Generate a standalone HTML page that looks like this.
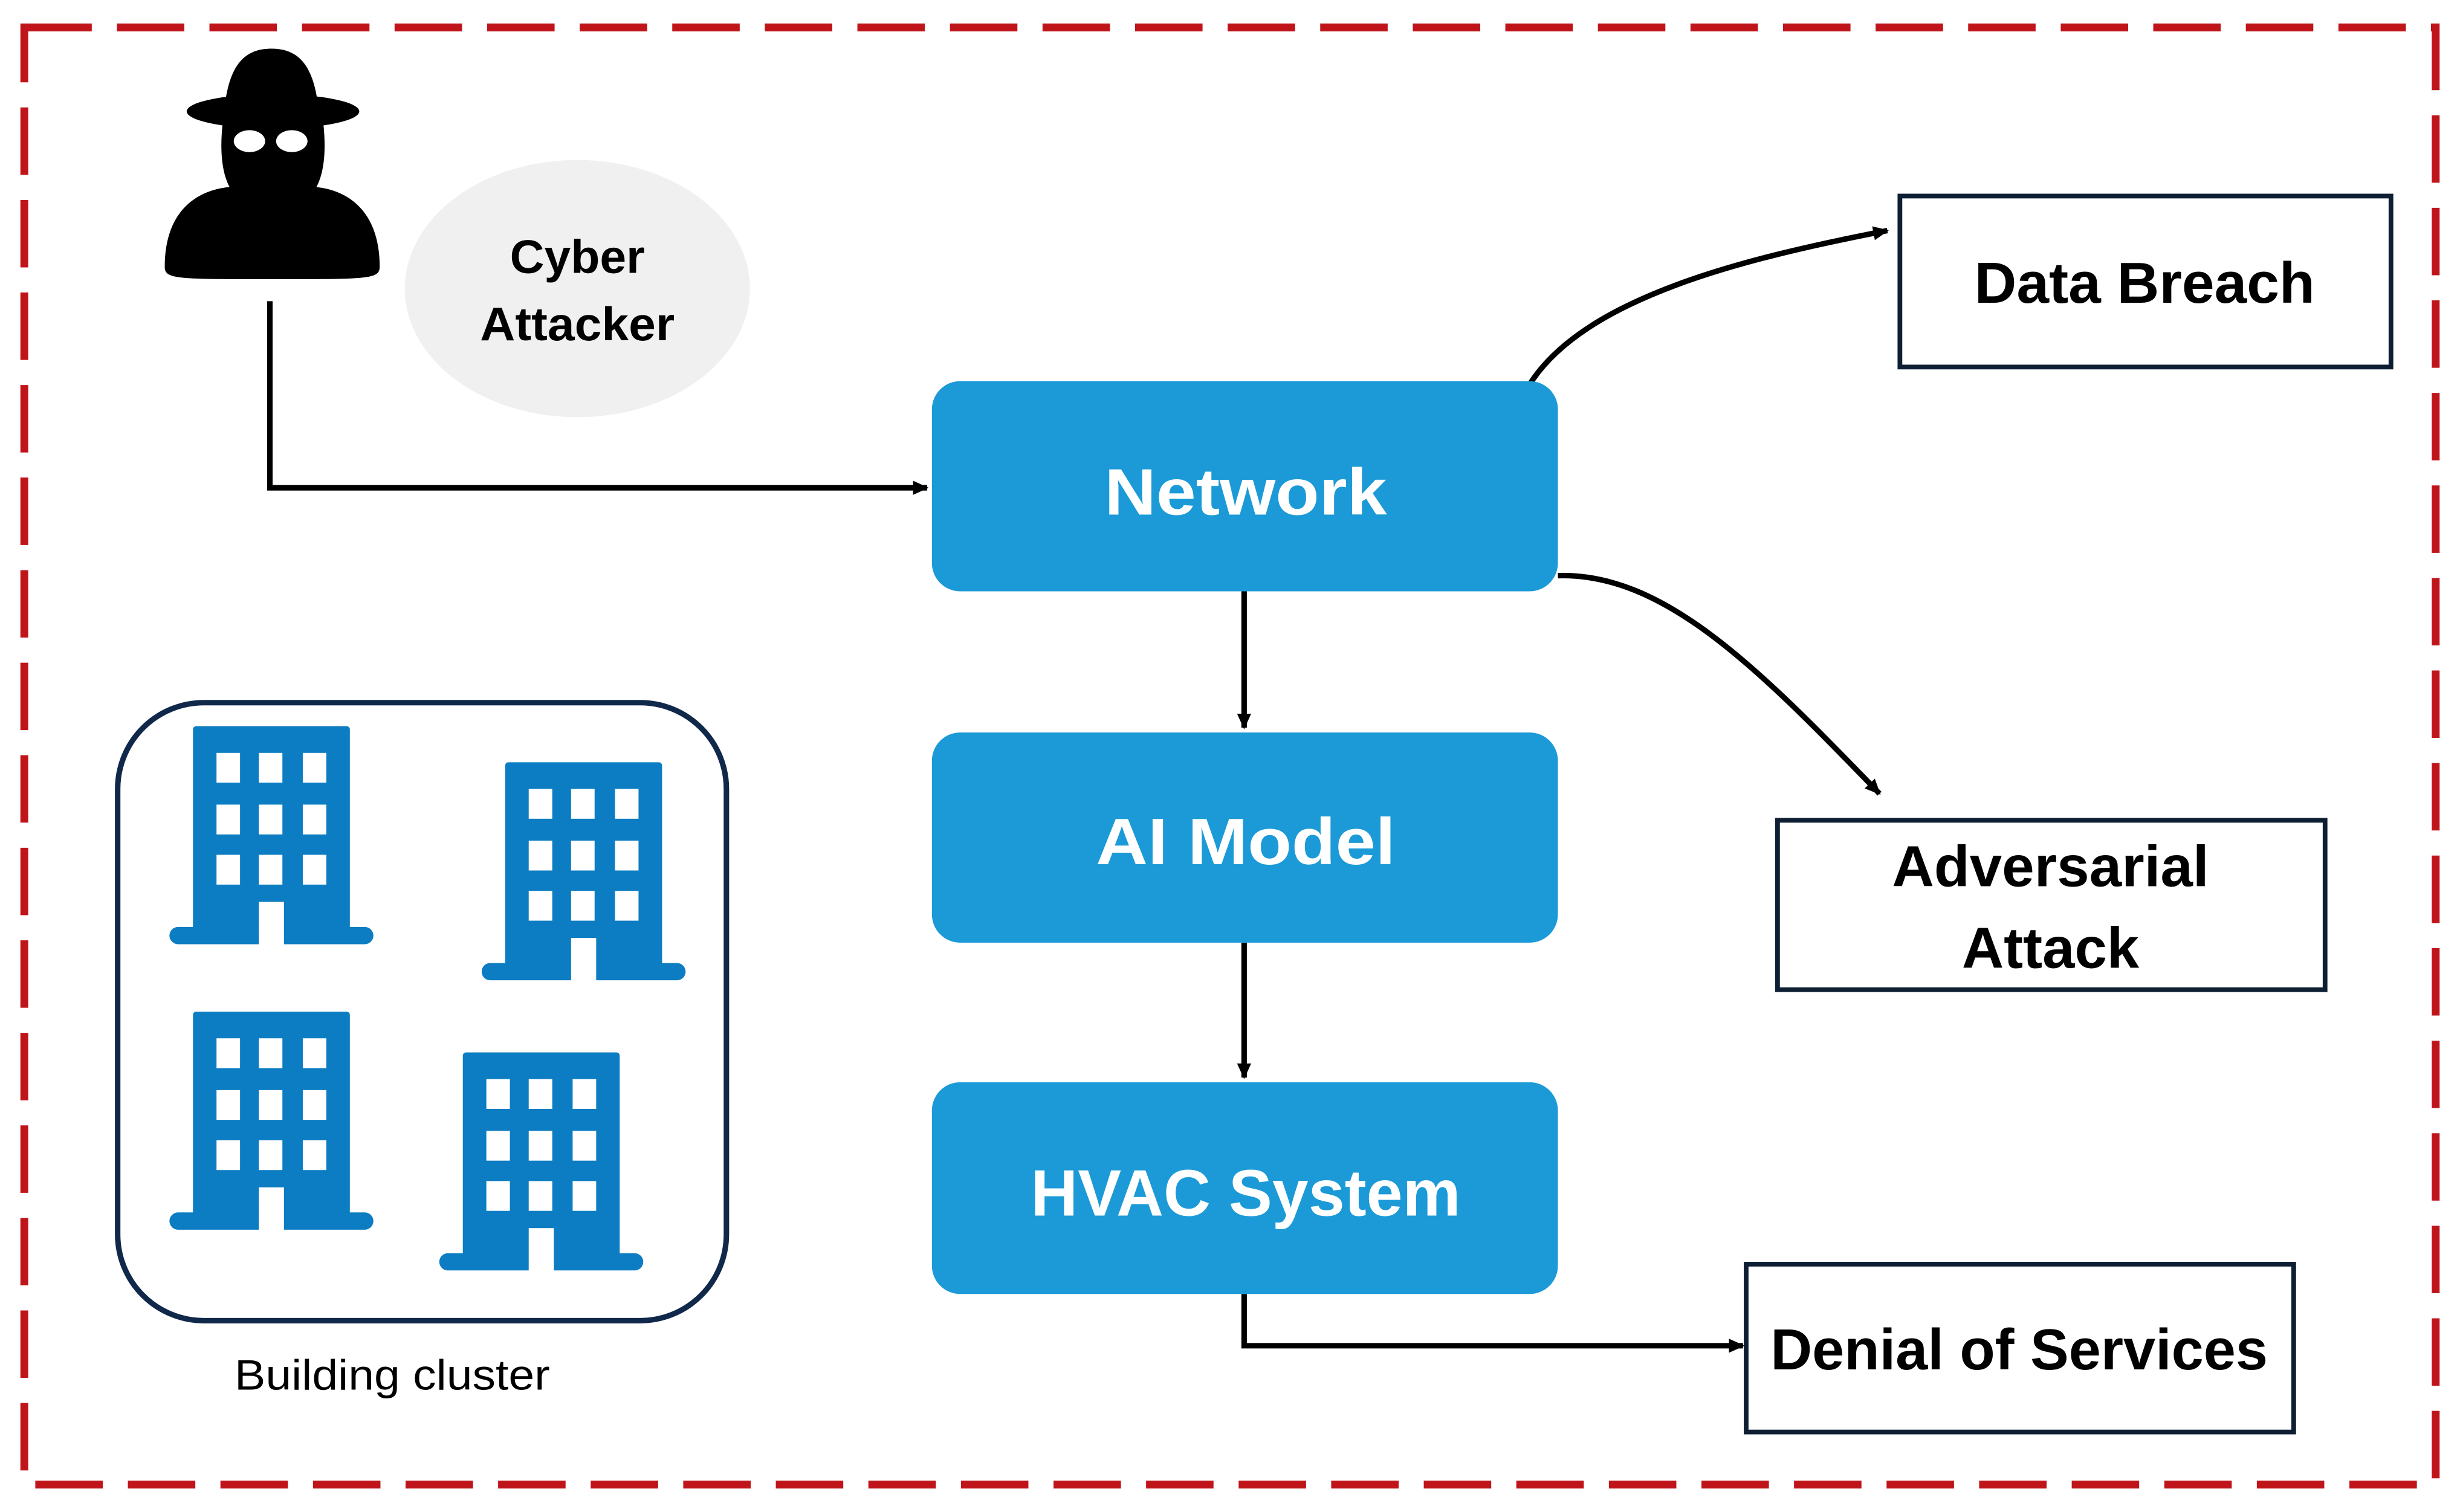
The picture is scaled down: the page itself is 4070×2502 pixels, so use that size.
<!DOCTYPE html>
<html><head><meta charset="utf-8"><style>
html,body{margin:0;padding:0;background:#fff;}
svg{display:block;}
text{font-family:"Liberation Sans",Arial,sans-serif;}
</style></head><body>
<svg width="4070" height="2502" viewBox="0 0 1568 964" preserveAspectRatio="none" xmlns="http://www.w3.org/2000/svg">
<defs>
<marker id="ah" markerWidth="10" markerHeight="10" refX="9" refY="5" orient="auto" markerUnits="userSpaceOnUse">
<path d="M0,0.5 L10,5 L0,9.5 Z" fill="#000"/>
</marker>
<g id="bld">
<rect x="0" y="0" width="100" height="138" rx="2" fill="#0c7dc2"/>
<rect x="-15" y="128" width="130" height="11" rx="5.5" fill="#0c7dc2"/>
<rect x="42" y="112" width="16" height="28" fill="#fff"/>
<g fill="#fff">
<rect x="15" y="17" width="15" height="19"/><rect x="42" y="17" width="15" height="19"/><rect x="70" y="17" width="15" height="19"/>
<rect x="15" y="50" width="15" height="19"/><rect x="42" y="50" width="15" height="19"/><rect x="70" y="50" width="15" height="19"/>
<rect x="15" y="82" width="15" height="19"/><rect x="42" y="82" width="15" height="19"/><rect x="70" y="82" width="15" height="19"/>
</g>
</g>
</defs>
<rect x="0" y="0" width="1568" height="964" fill="#fff"/>
<!-- dashed border -->
<rect x="15.5" y="17.5" width="1537" height="929" fill="none" stroke="#c0141b" stroke-width="5" stroke-dasharray="43 16"/>

<!-- hacker -->
<g fill="#000">
<path d="M142,80 C144,50 150,31 173,31 C196,31 202,50 204,80 Z"/>
<ellipse cx="174" cy="71" rx="55" ry="11"/>
<path d="M142,78 L206,78 C208,95 207,112 200,122 L148,122 C141,112 140,95 142,78 Z"/>
<path d="M105,170 C105,135 125,120 150,119 L198,119 C222,120 242,135 242,170 C242,178 235,178 173,178 C112,178 105,178 105,170 Z"/>
</g>
<ellipse cx="159" cy="90" rx="10" ry="7" fill="#fff"/>
<ellipse cx="186" cy="90" rx="10" ry="7" fill="#fff"/>

<!-- cyber attacker bubble -->
<ellipse cx="368" cy="184" rx="110" ry="82" fill="#f0f0f0"/>
<text x="368" y="174" font-size="30" font-weight="bold" text-anchor="middle" textLength="86" lengthAdjust="spacingAndGlyphs">Cyber</text>
<text x="368" y="217" font-size="30" font-weight="bold" text-anchor="middle" textLength="124" lengthAdjust="spacingAndGlyphs">Attacker</text>

<!-- connectors -->
<g fill="none" stroke="#000" stroke-width="3.5">
<path d="M172,192 L172,311 L591,311" marker-end="url(#ah)"/>
<path d="M793,377 L793,464" marker-end="url(#ah)"/>
<path d="M793,601 L793,687" marker-end="url(#ah)"/>
<path d="M793,825 L793,858 L1111,858" marker-end="url(#ah)"/>
<path d="M975,245 C1010,190 1110,165 1203,147" marker-end="url(#ah)"/>
<path d="M993,367 C1060,365 1120,425 1198,506" marker-end="url(#ah)"/>
</g>

<!-- blue boxes -->
<rect x="594" y="243" width="399" height="134" rx="18" fill="#1b9ad7"/>
<rect x="594" y="467" width="399" height="134" rx="18" fill="#1b9ad7"/>
<rect x="594" y="690" width="399" height="135" rx="18" fill="#1b9ad7"/>
<text x="794" y="328" font-size="42" font-weight="bold" fill="#fff" text-anchor="middle" textLength="180" lengthAdjust="spacingAndGlyphs">Network</text>
<text x="794" y="551" font-size="42" font-weight="bold" fill="#fff" text-anchor="middle" textLength="191" lengthAdjust="spacingAndGlyphs">AI Model</text>
<text x="794" y="775" font-size="42" font-weight="bold" fill="#fff" text-anchor="middle" textLength="274" lengthAdjust="spacingAndGlyphs">HVAC System</text>

<!-- outcome boxes -->
<g fill="#fff" stroke="#0f1f33" stroke-width="3">
<rect x="1211" y="125" width="313" height="109"/>
<rect x="1133" y="523" width="349" height="108"/>
<rect x="1113" y="806" width="349" height="107"/>
</g>
<text x="1367" y="193" font-size="37" font-weight="bold" text-anchor="middle" textLength="217" lengthAdjust="spacingAndGlyphs">Data Breach</text>
<text x="1307" y="565" font-size="37" font-weight="bold" text-anchor="middle" textLength="202" lengthAdjust="spacingAndGlyphs">Adversarial</text>
<text x="1307" y="617" font-size="37" font-weight="bold" text-anchor="middle" textLength="113" lengthAdjust="spacingAndGlyphs">Attack</text>
<text x="1287" y="873" font-size="37" font-weight="bold" text-anchor="middle" textLength="317" lengthAdjust="spacingAndGlyphs">Denial of Services</text>

<!-- building cluster -->
<rect x="75" y="448" width="388" height="394" rx="55" fill="none" stroke="#10284a" stroke-width="3.5"/>
<use href="#bld" x="123" y="463"/>
<use href="#bld" x="322" y="486"/>
<use href="#bld" x="123" y="645"/>
<use href="#bld" x="295" y="671"/>
<text x="250" y="886" font-size="27" text-anchor="middle" textLength="201" lengthAdjust="spacingAndGlyphs">Building cluster</text>
</svg>
</body></html>
